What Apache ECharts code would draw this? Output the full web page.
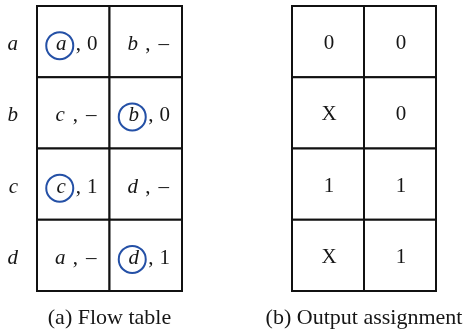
<!DOCTYPE html>
<html>
<head>
<meta charset="utf-8">
<script src="https://cdn.jsdelivr.net/npm/echarts@6/dist/echarts.min.js"></script>
<style>
html,body{margin:0;padding:0;background:#fff;}
#chart{width:470px;height:334px;}
</style>
</head>
<body>
<div id="chart"></div>
<script>
// ---- data ----
const states = ['a', 'b', 'c', 'd'];
const inputCols = ['0', '1'];
const nextState = [['a', 'b'], ['c', 'b'], ['c', 'd'], ['a', 'd']];
const flowOutput = [['0', '–'], ['–', '0'], ['1', '–'], ['–', '1']];
const stableCell = [[true, false], [false, true], [true, false], [false, true]];
const outputAssign = [['0', '0'], ['X', '0'], ['1', '1'], ['X', '1']];
const captionA = '(a) Flow table';
const captionB = '(b) Output assignment';

const SERIF = '"Liberation Serif", "Times New Roman", serif';
const INK = '#161616';
const BLUE = '#2450a6';
const FS = 21;

const cellsLeft = [], cellsRight = [];
for (let r = 0; r < states.length; r++) {
  for (let c = 0; c < inputCols.length; c++) {
    cellsLeft.push([c, r]);
    cellsRight.push([c, r]);
  }
}

function cellRect(api) {
  const c = api.value(0), r = api.value(1);
  const p = api.coord([c, r]);
  const s = api.size([1, 1]);
  return { c, r, cx: p[0], cy: p[1], w: s[0], h: s[1] };
}
function txt(x, y, text, italic, color) {
  return {
    type: 'text', x: x, y: y,
    style: { text: text, fontFamily: SERIF, fontSize: FS, fontStyle: italic ? 'italic' : 'normal',
             fill: color || INK, align: 'center', verticalAlign: 'middle' }
  };
}
function border(k) {
  return { type: 'rect', shape: { x: k.cx - k.w / 2, y: k.cy - k.h / 2, width: k.w, height: k.h },
           style: { fill: '#fff', stroke: '#111', lineWidth: 2 } };
}

const chart = echarts.init(document.getElementById('chart'), null, { renderer: 'canvas' });
chart.setOption({
  backgroundColor: '#ffffff',
  animation: false,
  grid: [
    { left: 37, right: 288, top: 6, bottom: 38 },
    { left: 292, right: 34, top: 6, bottom: 38 }
  ],
  xAxis: [
    { gridIndex: 0, type: 'category', data: inputCols, axisLine: { show: false }, axisTick: { show: false },
      axisLabel: { show: false }, splitLine: { show: false },
      name: captionA, nameLocation: 'middle', nameGap: 16,
      nameTextStyle: { fontFamily: SERIF, fontSize: 22, color: INK } },
    { gridIndex: 1, type: 'category', data: inputCols, axisLine: { show: false }, axisTick: { show: false },
      axisLabel: { show: false }, splitLine: { show: false },
      name: captionB, nameLocation: 'middle', nameGap: 16,
      nameTextStyle: { fontFamily: SERIF, fontSize: 22, color: INK } }
  ],
  yAxis: [
    { gridIndex: 0, type: 'category', data: states, inverse: true, axisLine: { show: false }, axisTick: { show: false },
      axisLabel: { show: true, margin: 19, formatter: function (v) { return '{l|' + v + '}'; },
        rich: { l: { fontFamily: SERIF, fontSize: FS, fontStyle: 'italic', color: INK, padding: [6, 0, 0, 0] } } },
      splitLine: { show: false } },
    { gridIndex: 1, type: 'category', data: states, inverse: true, axisLine: { show: false }, axisTick: { show: false },
      axisLabel: { show: false }, splitLine: { show: false } }
  ],
  series: [
    {
      type: 'custom', xAxisIndex: 0, yAxisIndex: 0, data: cellsLeft,
      renderItem: function (params, api) {
        const k = cellRect(api);
        const ns = nextState[k.r][k.c], out = flowOutput[k.r][k.c];
        const ty = k.cy + 3;
        const kids = [border(k)];
        if (stableCell[k.r][k.c]) {
          kids.push({ type: 'circle', shape: { cx: k.cx - 13.5, cy: k.cy + 4, r: 13.5 },
                      style: { fill: null, stroke: BLUE, lineWidth: 2 } });
          kids.push(txt(k.cx - 12, ty, ns, true));
          kids.push(txt(k.cx + 5, ty, ',', false));
          kids.push(txt(k.cx + 19, ty, out, false));
        } else {
          kids.push(txt(k.cx - 13, ty, ns, true));
          kids.push(txt(k.cx + 2, ty, ',', false));
          kids.push(txt(k.cx + 18, ty, out, false));
        }
        return { type: 'group', children: kids };
      }
    },
    {
      type: 'custom', xAxisIndex: 1, yAxisIndex: 1, data: cellsRight,
      renderItem: function (params, api) {
        const k = cellRect(api);
        return { type: 'group', children: [border(k), txt(k.cx + 1, k.cy + 2, outputAssign[k.r][k.c], false)] };
      }
    }
  ]
});
</script>
</body>
</html>
